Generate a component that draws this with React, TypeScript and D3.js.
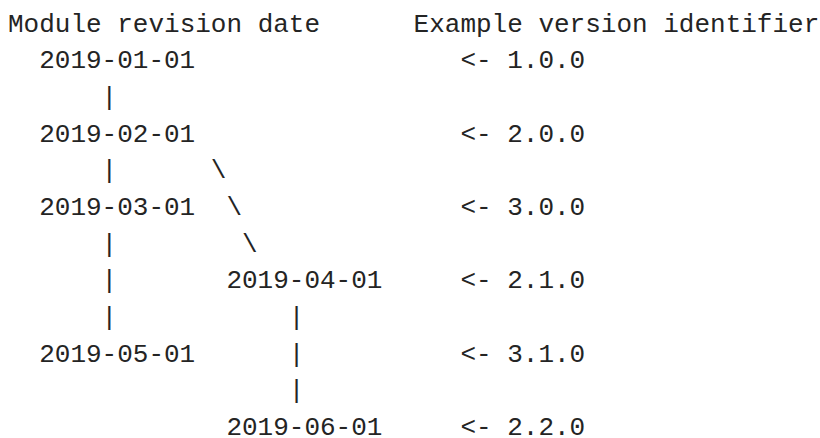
import React, { useEffect, useRef } from "react";
import * as d3 from "d3";

// header labels
const headers = ["Module revision date", "Example version identifier"];
const headerCols = [0, 26];

// module revisions, in order
const revisionDates = ["2019-01-01", "2019-02-01", "2019-03-01", "2019-04-01", "2019-05-01", "2019-06-01"];
const versionIds = ["1.0.0", "2.0.0", "3.0.0", "2.1.0", "3.1.0", "2.2.0"];
const revisionRows = [1, 3, 5, 7, 9, 11];
const revisionCols = [2, 2, 2, 14, 2, 14];

// ascii connectors: [row, col, glyph]
const connectors: [number, number, string][] = [
  [2, 6, "|"],
  [4, 6, "|"], [4, 13, "\\"],
  [5, 14, "\\"],
  [6, 6, "|"], [6, 15, "\\"],
  [7, 6, "|"],
  [8, 6, "|"], [8, 18, "|"],
  [9, 18, "|"],
  [10, 18, "|"],
];

const App = () => {
  const ref = useRef<SVGSVGElement>(null);

  useEffect(() => {
    const width = 820;
    const height = 438;
    const svg = d3.select(ref.current);
    svg.selectChildren().remove();
    svg.attr("width", width).attr("height", height);

    // character grid: column -> x, line -> baseline
    const x = d3.scaleLinear().domain([0, 1]).range([8, 8 + 15.6]);
    const y = d3.scaleLinear().domain([0, 11]).range([31.7, 435]);

    const g = svg.append("g")
      .attr("font-family", "'Liberation Mono', monospace")
      .attr("font-size", 26)
      .attr("fill", "#242424");

    g.selectAll(".header")
      .data(headers)
      .enter().append("text")
      .attr("class", "header")
      .attr("x", (d, i) => x(headerCols[i]))
      .attr("y", y(0))
      .text(d => d);

    g.selectAll(".rev")
      .data(revisionDates)
      .enter().append("text")
      .attr("class", "rev")
      .attr("x", (d, i) => x(revisionCols[i]))
      .attr("y", (d, i) => y(revisionRows[i]))
      .text(d => d);

    g.selectAll(".ver")
      .data(versionIds)
      .enter().append("text")
      .attr("class", "ver")
      .attr("x", x(29))
      .attr("y", (d, i) => y(revisionRows[i]))
      .attr("xml:space", "preserve")
      .style("white-space", "pre")
      .text(d => `<- ${d}`);

    g.selectAll(".link")
      .data(connectors)
      .enter().append("text")
      .attr("class", "link")
      .attr("x", d => x(d[1]))
      .attr("y", d => y(d[0]))
      .text(d => d[2]);
  });

  return (
    <svg ref={ref} style={{ position: "absolute", left: 0, top: 0, display: "block" }} />
  );
};

export default App;
